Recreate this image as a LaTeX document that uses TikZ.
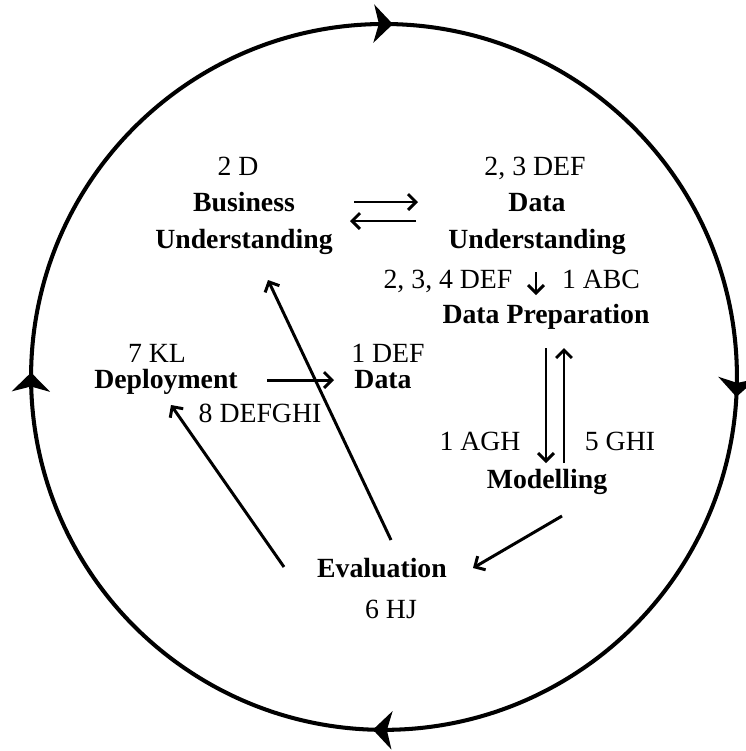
\documentclass[tikz,border=0pt]{standalone}
\usepackage{fontspec}
\setmainfont{Liberation Serif}
\usetikzlibrary{arrows.meta,decorations.markings}

\begin{document}
\begin{tikzpicture}[x=0.02cm, y=-0.02cm]
\tikzset{ >={Straight Barb[length=4.5pt,width=9pt]},
  txt/.style={anchor=base, inner sep=0pt, outer sep=0pt, font=\fontsize{15.8}{21}\selectfont},
  stage/.style={txt, align=center, font=\fontsize{15.8}{21}\selectfont\bfseries},
  flow/.style={->, line width=1.7pt},
  cyc/.style={line width=2.3pt},
  cyctip/.tip={Stealth[length=0.38cm, width=0.76cm, inset=0.1cm]},
}
\useasboundingbox (0,0) rectangle (746,751);

%\draw [lightgray, dashed](0,0) grid [step=50] (746,751);

% outer cycle, clockwise
\draw [cyc, postaction={decorate}, decoration={markings,
    mark=at position 0.004 with {\arrow{cyctip}},
    mark=at position 0.259 with {\arrow{cyctip}},
    mark=at position 0.505 with {\arrow{cyctip}},
    mark=at position 0.752 with {\arrow{cyctip}}}]
  (384,24) arc [start angle=90, end angle=-270, radius=7.06cm];

% stages (base = last line)
\node [stage] (BU) at (244,248) {Business\\Understanding};
\node [stage] (DU) at (537,248) {Data\\Understanding};
\node [stage] (DP) at (546,323) {Data Preparation};
\node [stage] (Dep) at (166,388) {Deployment};
\node [stage] (D) at (383,388) {Data};
\node [stage] (M) at (547,488) {Modelling};
\node [stage] (E) at (382,577) {Evaluation};

% labels
\node [txt] (lBU) at (238,175) {2 D};
\node [txt] (lDU) at (535,175) {2, 3 DEF};
\node [txt] (lDPa) at (448,288) {2, 3, 4 DEF};
\node [txt] (lDPb) at (601,288) {1 ABC};
\node [txt] (lDep) at (157,362) {7 KL};
\node [txt] (lD) at (388,362) {1 DEF};
\node [txt] (lED) at (260,422) {8 DEFGHI};
\node [txt] (lMa) at (480,450) {1 AGH};
\node [txt] (lMb) at (620,450) {5 GHI};
\node [txt] (lE) at (391,618) {6 HJ};

% arrow ends
\coordinate (bu1) at (354,202);  \coordinate (du1) at (418,202);
\coordinate (du2) at (416,221);  \coordinate (bu2) at (350,221);
\coordinate (du3) at (536,272);  \coordinate (dp3) at (536,295);
\coordinate (dp4) at (546,348);  \coordinate (m4) at (546,463);
\coordinate (m5) at (564,463);   \coordinate (dp5) at (564,348);
\coordinate (m6) at (562,516);   \coordinate (e6) at (473,568);
\coordinate (e7) at (284,567);   \coordinate (dep7) at (171,405);
\coordinate (e8) at (391,540);   \coordinate (bu8) at (268,280);
\coordinate (dep9) at (267,380); \coordinate (d9) at (334,380);

\draw [flow] (bu1) -- (du1);
\draw [flow] (du2) -- (bu2);
\draw [flow] (du3) -- (dp3);
\draw [flow] (dp4) -- (m4);
\draw [flow] (m5) -- (dp5);
\draw [flow] (m6) -- (e6);
\draw [flow] (e7) -- (dep7);
\draw [flow] (e8) -- (bu8);
\draw [flow] (dep9) -- (d9);

\end{tikzpicture}
\end{document}
